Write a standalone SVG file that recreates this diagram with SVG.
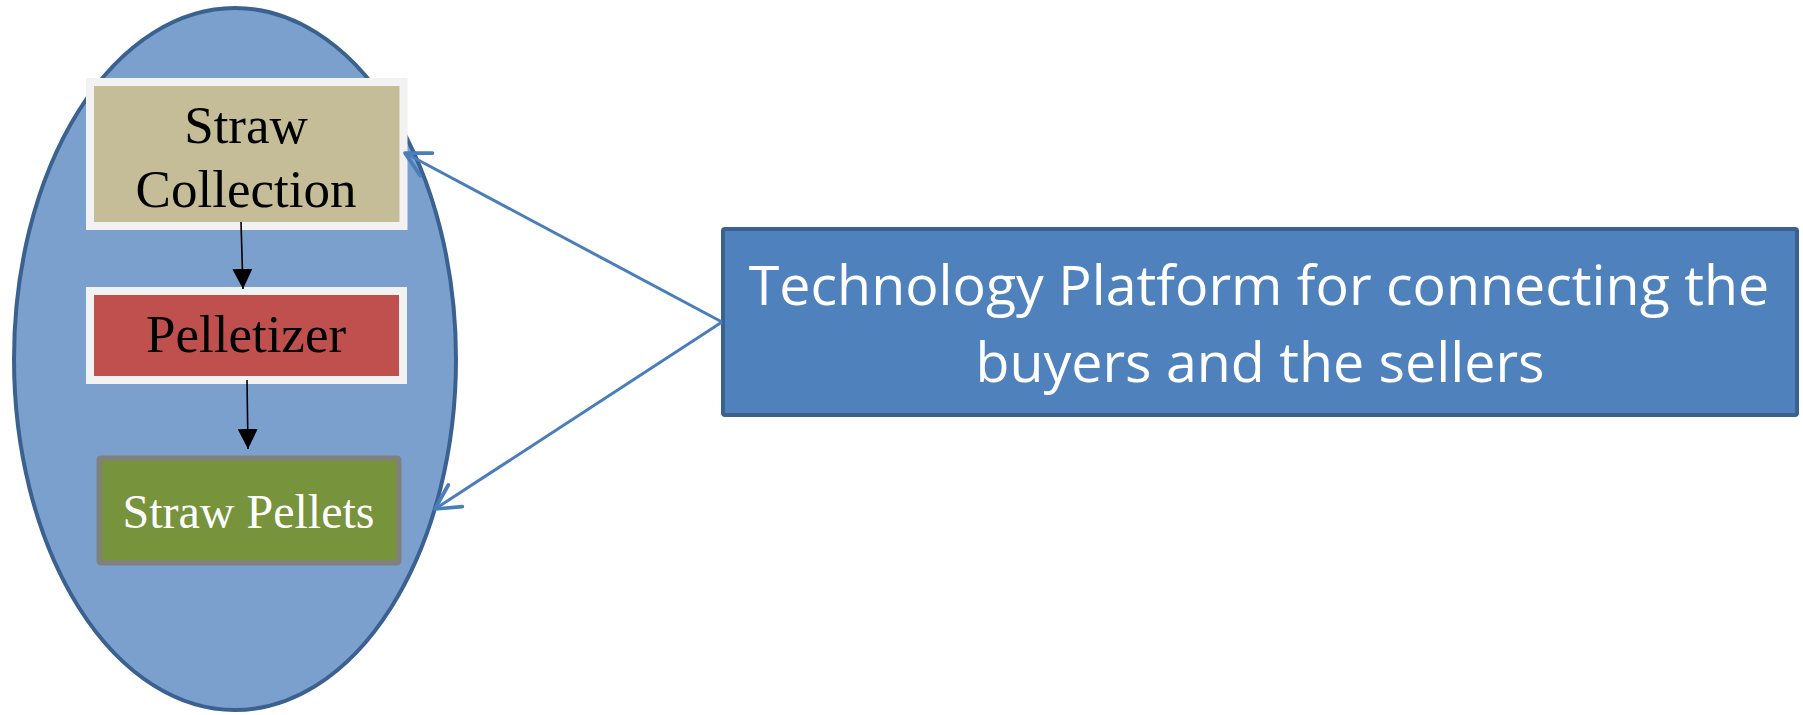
<svg xmlns="http://www.w3.org/2000/svg" width="1803" height="715" viewBox="0 0 1803 715">
<style>
.serif{font-family:"Liberation Serif","Times New Roman",serif;text-anchor:middle}
.sans{font-family:"Open Sans","Noto Sans",sans-serif;text-anchor:middle;fill:#ffffff}
.blk{stroke:#000000;stroke-width:1.6;fill:none}
.blu{stroke:#4a7ebb;stroke-width:3;fill:none}
</style>
<defs>
<marker id="ah" markerUnits="userSpaceOnUse" markerWidth="20" markerHeight="20" refX="16" refY="8" orient="auto" viewBox="0 0 16 16">
<path d="M0,0 L16,8 L0,16 Z" fill="#000000"/>
</marker>
<marker id="open" markerUnits="userSpaceOnUse" markerWidth="30" markerHeight="30" refX="22" refY="12" orient="auto" viewBox="0 0 24 24">
<path d="M2.6,1.7 L22,12 L2.6,22.3" fill="none" stroke="#4a7ebb" stroke-width="3" stroke-linecap="round" stroke-linejoin="round"/>
</marker>
</defs>
<g id="container">
<ellipse cx="235" cy="359" rx="221" ry="351" fill="#7ba0cd" stroke="#3a6190" stroke-width="4"/>
</g>
<g id="straw-collection">
<rect x="90" y="82" width="313.5" height="144" fill="#c4bd97" stroke="#f2f2f2" stroke-width="8"/>
<text class="serif" x="246" y="143" font-size="53" fill="#000000">Straw</text>
<text class="serif" x="246" y="207" font-size="53" fill="#000000">Collection</text>
</g>
<g id="pelletizer">
<rect x="90" y="291" width="313" height="89" fill="#c0504d" stroke="#f2f2f2" stroke-width="8"/>
<text class="serif" x="246" y="352" font-size="53" fill="#000000">Pelletizer</text>
</g>
<g id="straw-pellets">
<rect x="99" y="458" width="300" height="105" rx="2" fill="#77933c" stroke="#808080" stroke-width="5"/>
<text class="serif" x="248.5" y="528" font-size="48" fill="#ffffff">Straw Pellets</text>
</g>
<g id="technology-platform">
<rect x="723" y="229" width="1074" height="186" rx="2" fill="#4f81bd" stroke="#3a6190" stroke-width="4"/>
<text class="sans" x="1259" y="305" font-size="55.5">Technology Platform for connecting the</text>
<text class="sans" x="1260" y="382" font-size="55.5">buyers and the sellers</text>
</g>
<g id="connectors">
<line class="blk" x1="241" y1="222" x2="243" y2="289" marker-end="url(#ah)"/>
<line class="blk" x1="247" y1="380" x2="248" y2="449" marker-end="url(#ah)"/>
<line class="blu" x1="722" y1="322" x2="405" y2="153" marker-end="url(#open)"/>
<line class="blu" x1="722" y1="322" x2="435" y2="509" marker-end="url(#open)"/>
</g>
</svg>
